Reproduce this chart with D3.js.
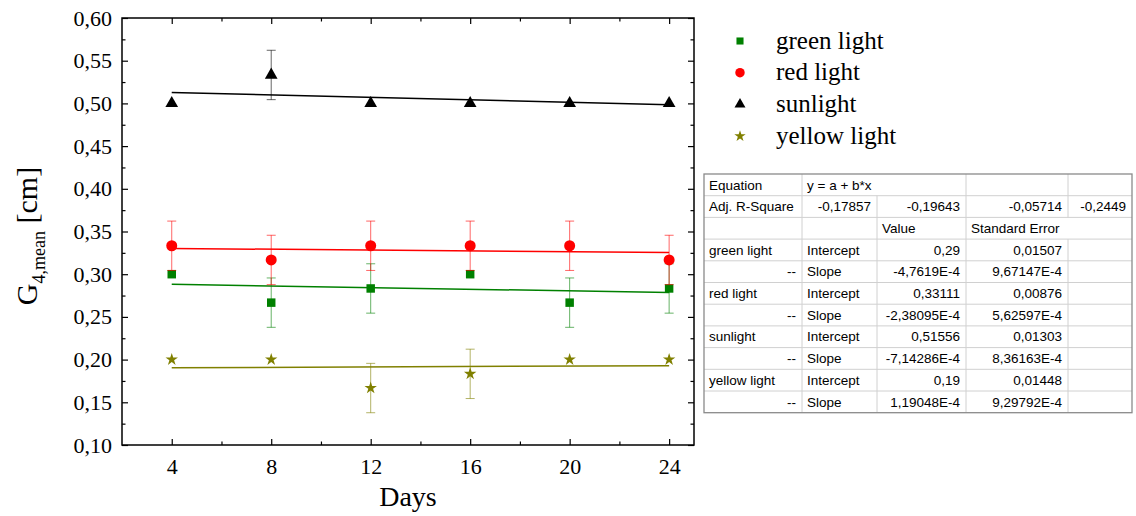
<!DOCTYPE html>
<html>
<head>
<meta charset="utf-8">
<script src="https://cdn.jsdelivr.net/npm/d3@7"></script>
<style>
  body { margin: 0; background: #fff; }
  svg { display: block; }
</style>
</head>
<body>
<div id="chart"></div>
<script>
// data
const days = [4, 8, 12, 16, 20, 24];
const seriesNames = ["green light", "red light", "sunlight", "yellow light"];
const greenValues = [0.3, 0.2667, 0.2833, 0.3, 0.2667, 0.2833];
const greenErrors = [0, 0.0289, 0.0289, 0, 0.0289, 0.0289];
const redValues = [0.3333, 0.3167, 0.3333, 0.3333, 0.3333, 0.3167];
const redErrors = [0.0289, 0.0289, 0.0289, 0.0289, 0.0289, 0.0289];
const sunValues = [0.5, 0.5333, 0.5, 0.5, 0.5, 0.5];
const sunErrors = [0, 0.0289, 0, 0, 0, 0];
const yellowValues = [0.2, 0.2, 0.1667, 0.1833, 0.2, 0.2];
const yellowErrors = [0, 0, 0.0289, 0.0289, 0, 0];
const intercepts = [0.29, 0.33111, 0.51556, 0.19];
const slopes = [-4.7619e-4, -2.38095e-4, -7.14286e-4, 1.19048e-4];

// fit report table
const tableRows = [
  ["Equation", "y = a + b*x", "", "", ""],
  ["Adj. R-Square", "-0,17857", "-0,19643", "-0,05714", "-0,2449"],
  ["", "", "Value", "Standard Error", ""],
  ["green light", "Intercept", "0,29", "0,01507", ""],
  ["--", "Slope", "-4,7619E-4", "9,67147E-4", ""],
  ["red light", "Intercept", "0,33111", "0,00876", ""],
  ["--", "Slope", "-2,38095E-4", "5,62597E-4", ""],
  ["sunlight", "Intercept", "0,51556", "0,01303", ""],
  ["--", "Slope", "-7,14286E-4", "8,36163E-4", ""],
  ["yellow light", "Intercept", "0,19", "0,01448", ""],
  ["--", "Slope", "1,19048E-4", "9,29792E-4", ""]
];

const width = 1136, height = 516;
const margin = { top: 18, right: 442, bottom: 71, left: 122 };
const innerW = width - margin.left - margin.right;
const innerH = height - margin.top - margin.bottom;

const svg = d3.select("#chart").append("svg")
  .attr("width", width).attr("height", height);

const g = svg.append("g").attr("transform", `translate(${margin.left},${margin.top})`);

const x = d3.scaleLinear().domain([2, 25]).range([0, innerW]);
const y = d3.scaleLinear().domain([0.1, 0.6]).range([innerH, 0]);

const locale = d3.formatLocale({ decimal: ",", thousands: ".", grouping: [3], currency: ["", ""] });
const fmt = locale.format(".2f");

const serif = "'Liberation Serif', 'Times New Roman', serif";

const xMajor = d3.range(4, 25, 4);
const xMinor = d3.range(6, 24, 4);
const yMajor = d3.range(0, 11).map(i => 0.1 + i * 0.05);
const yMinor = d3.range(0, 10).map(i => 0.125 + i * 0.05);

function styleAxis(sel) {
  sel.select(".domain").remove();
  sel.selectAll("line").attr("stroke", "#000").attr("stroke-width", 1.2);
  sel.selectAll("text").attr("font-family", serif).attr("font-size", 22).attr("fill", "#000");
}

// bottom / left with labels
g.append("g").attr("transform", `translate(0,${innerH})`)
  .call(d3.axisBottom(x).tickValues(xMajor).tickSizeInner(-6).tickSizeOuter(0).tickPadding(13).tickFormat(d3.format("d")))
  .call(styleAxis);
g.append("g").attr("transform", `translate(0,${innerH})`)
  .call(d3.axisBottom(x).tickValues(xMinor).tickSizeInner(-3.5).tickSizeOuter(0).tickFormat(""))
  .call(styleAxis);
g.append("g")
  .call(d3.axisLeft(y).tickValues(yMajor).tickSizeInner(-6).tickSizeOuter(0).tickPadding(10).tickFormat(fmt))
  .call(styleAxis);
g.append("g")
  .call(d3.axisLeft(y).tickValues(yMinor).tickSizeInner(-3.5).tickSizeOuter(0).tickFormat(""))
  .call(styleAxis);

// mirrored top / right ticks
g.append("g")
  .call(d3.axisTop(x).tickValues(xMajor).tickSizeInner(-6).tickSizeOuter(0).tickFormat(""))
  .call(styleAxis);
g.append("g")
  .call(d3.axisTop(x).tickValues(xMinor).tickSizeInner(-3.5).tickSizeOuter(0).tickFormat(""))
  .call(styleAxis);
g.append("g").attr("transform", `translate(${innerW},0)`)
  .call(d3.axisRight(y).tickValues(yMajor).tickSizeInner(-6).tickSizeOuter(0).tickFormat(""))
  .call(styleAxis);
g.append("g").attr("transform", `translate(${innerW},0)`)
  .call(d3.axisRight(y).tickValues(yMinor).tickSizeInner(-3.5).tickSizeOuter(0).tickFormat(""))
  .call(styleAxis);

g.append("rect")
  .attr("width", innerW).attr("height", innerH)
  .attr("fill", "none").attr("stroke", "#000").attr("stroke-width", 1.5);

// axis titles
svg.append("text")
  .attr("x", margin.left + innerW / 2).attr("y", 506)
  .attr("text-anchor", "middle")
  .attr("font-family", serif).attr("font-size", 28)
  .text("Days");

const yTitle = svg.append("text")
  .attr("transform", "translate(37,236) rotate(-90)")
  .attr("text-anchor", "middle")
  .attr("font-family", serif).attr("font-size", 30);
yTitle.append("tspan").text("G");
yTitle.append("tspan").attr("font-size", 18).attr("dy", 8).text("4,mean");
yTitle.append("tspan").attr("dy", -8).text(" [cm]");

// series
const series = [
  { name: seriesNames[0], values: greenValues, errors: greenErrors, color: "#008000", symbol: d3.symbolSquare, size: 72, legendSize: 50 },
  { name: seriesNames[1], values: redValues, errors: redErrors, color: "#ff0000", symbol: d3.symbolCircle, size: 95, legendSize: 70 },
  { name: seriesNames[2], values: sunValues, errors: sunErrors, color: "#000000", symbol: d3.symbolTriangle, size: 70, legendSize: 52 },
  { name: seriesNames[3], values: yellowValues, errors: yellowErrors, color: "#808000", symbol: d3.symbolStar, size: 48, legendSize: 40 }
];

const capW = 4.5;
series.forEach((s, i) => {
  const pts = days.map((d, j) => ({ day: d, v: s.values[j], e: s.errors[j] }));

  // fitted line
  const a = intercepts[i], b = slopes[i];
  g.append("line")
    .attr("x1", x(days[0])).attr("x2", x(days[days.length - 1]))
    .attr("y1", y(a + b * days[0])).attr("y2", y(a + b * days[days.length - 1]))
    .attr("stroke", s.color).attr("stroke-width", 1.5);

  // error bars
  const eb = g.append("g").attr("stroke", s.color).attr("stroke-opacity", 0.6).attr("stroke-width", 1);
  pts.filter(p => p.e > 0).forEach(p => {
    const cx = x(p.day);
    eb.append("line").attr("x1", cx).attr("x2", cx).attr("y1", y(p.v - p.e)).attr("y2", y(p.v + p.e));
    eb.append("line").attr("x1", cx - capW).attr("x2", cx + capW).attr("y1", y(p.v + p.e)).attr("y2", y(p.v + p.e));
    eb.append("line").attr("x1", cx - capW).attr("x2", cx + capW).attr("y1", y(p.v - p.e)).attr("y2", y(p.v - p.e));
  });

  // markers
  g.selectAll(null).data(pts).join("path")
    .attr("transform", p => `translate(${x(p.day)},${y(p.v)})`)
    .attr("d", d3.symbol(s.symbol, s.size))
    .attr("fill", s.color);
});

// legend
const legend = svg.append("g").attr("transform", "translate(740,41)");
series.forEach((s, i) => {
  const row = legend.append("g").attr("transform", `translate(0,${i * 31.7})`);
  row.append("path").attr("d", d3.symbol(s.symbol, s.legendSize)).attr("fill", s.color);
  row.append("text")
    .attr("x", 36).attr("y", 7.5)
    .attr("font-family", serif).attr("font-size", 25)
    .text(s.name);
});

// table
const colX = [704, 802, 877, 966, 1068, 1132];
const rowH = 21.7, tableTop = 174;
const nRows = tableRows.length;
const table = svg.append("g").attr("font-family", "'Liberation Sans', Arial, sans-serif").attr("font-size", 13.5);
const gridColor = "#d0d0d0";

// horizontal lines
for (let r = 1; r < nRows; r++) {
  table.append("line")
    .attr("x1", colX[0]).attr("x2", colX[5])
    .attr("y1", tableTop + r * rowH).attr("y2", tableTop + r * rowH)
    .attr("stroke", gridColor);
}
// vertical lines, skipping merged cells
const merged = { "0-2": true, "2-4": true };
for (let r = 0; r < nRows; r++) {
  for (let c = 1; c < 5; c++) {
    if (merged[`${r}-${c}`]) continue;
    table.append("line")
      .attr("x1", colX[c]).attr("x2", colX[c])
      .attr("y1", tableTop + r * rowH).attr("y2", tableTop + (r + 1) * rowH)
      .attr("stroke", gridColor);
  }
}
table.append("rect")
  .attr("x", colX[0]).attr("y", tableTop)
  .attr("width", colX[5] - colX[0]).attr("height", nRows * rowH)
  .attr("fill", "none").attr("stroke", "#8a8a8a").attr("stroke-width", 1.3);

const isNumeric = t => /^-?[0-9]/.test(t) || t === "--";
tableRows.forEach((row, r) => {
  row.forEach((t, c) => {
    if (!t) return;
    const right = isNumeric(t);
    table.append("text")
      .attr("x", right ? colX[c + 1] - 6 : colX[c] + 5)
      .attr("y", tableTop + r * rowH + 15.5)
      .attr("text-anchor", right ? "end" : "start")
      .attr("fill", "#000")
      .text(t);
  });
});
</script>
</body>
</html>
